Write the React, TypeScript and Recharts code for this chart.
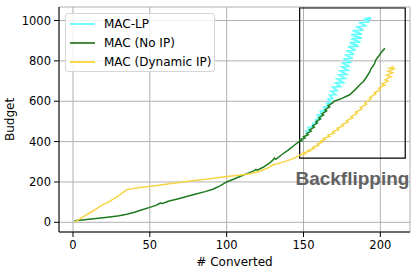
import React from "react";
import {
  LineChart,
  Line,
  XAxis,
  YAxis,
  CartesianGrid,
  Legend,
  ReferenceArea,
  Label,
} from "recharts";

// [# converted, budget]
const lpPts: [number, number][] = [
  [151, 450], [154, 453], [153, 470], [156, 473], [156, 490], [159, 493],
  [158, 510], [161, 513], [159, 530], [162, 533], [161, 550], [164, 553],
  [163, 570], [166, 573], [165, 590], [168, 593], [166, 610], [169, 613],
  [167, 630], [171, 633], [168, 650], [172, 653], [169, 670], [174, 673],
  [171, 690], [176, 693], [172, 710], [177, 713], [173, 730], [178, 733],
  [174, 750], [179, 753], [175, 770], [180, 773], [175, 790], [181, 793],
  [176, 810], [182, 813], [177, 830], [183, 833], [178, 850], [184, 853],
  [179, 870], [186, 873], [180, 890], [187, 893], [181, 910], [188, 913],
  [181, 930], [188, 933], [182, 950], [189, 953], [184, 970], [191, 973],
  [186, 990], [193, 993], [189, 1005], [194, 1008], [190, 1011], [194, 1013],
];

const noIpPts: [number, number][] = [
  [1, 8], [6, 12], [12, 17], [18, 21], [24, 26], [30, 32], [35, 40], [40, 50],
  [45, 62], [50, 74], [54, 84], [56, 92], [57, 96], [58, 92], [62, 104],
  [68, 116], [74, 128], [80, 140], [86, 152], [91, 164], [96, 182], [100, 200],
  [104, 212], [109, 228], [114, 244], [118, 256], [119, 262], [120, 258],
  [124, 274], [128, 294], [130, 308], [131, 318], [132, 312], [136, 336],
  [140, 358], [144, 382], [147, 400],
  [149, 404], [148, 410], [151, 418], [150, 424], [153, 434], [152, 440],
  [155, 452], [154, 458], [157, 472], [156, 478], [159, 492], [158, 498],
  [161, 512], [160, 518], [163, 532], [162, 538], [165, 552], [164, 558],
  [167, 572], [166, 578], [169, 592], [170, 600],
  [175, 614], [180, 632], [184, 660], [187, 684], [189, 698], [191, 720],
  [193, 744], [194, 762], [196, 782], [197, 804], [199, 824], [201, 846],
  [203, 862],
];

const dynIpPts: [number, number][] = [
  [1, 0], [5, 20], [9, 38], [13, 56], [17, 76], [20, 90], [22, 96], [26, 114],
  [30, 134], [35, 162], [45, 174], [55, 183], [65, 193], [75, 203], [85, 212],
  [95, 222], [105, 231], [112, 237], [117, 243], [122, 254], [127, 270],
  [130, 284], [134, 292], [138, 302], [142, 312], [145, 322], [148, 334],
  [151, 340], [150, 344], [154, 352], [153, 356], [157, 366], [156, 372],
  [160, 382], [159, 388], [162, 396], [161, 402], [164, 410], [163, 416],
  [167, 426], [166, 432], [170, 442], [169, 448], [173, 460], [172, 466],
  [176, 478], [175, 484], [179, 498], [178, 504], [182, 518], [181, 524],
  [185, 540], [184, 546], [188, 562], [187, 568], [191, 586], [190, 592],
  [194, 612], [193, 618], [197, 636], [196, 642], [200, 656], [199, 664],
  [203, 680], [201, 686], [205, 700], [203, 706], [207, 722], [204, 728],
  [208, 742], [205, 748], [209, 760], [206, 764], [209, 772],
];

const xTicks = [0, 50, 100, 150, 200];
const yTicks = [0, 200, 400, 600, 800, 1000];
const xDomain: [number, number] = [-9.1, 219.3];
const yDomain: [number, number] = [-48, 1067];

// zoomed-in region
const boxX: [number, number] = [147.5, 216.2];
const boxY: [number, number] = [318, 1062];

const series = [
  { name: "MAC-LP", pts: lpPts, color: "#66ffff", swatch: "#70ffff", width: 1.8 },
  { name: "MAC (No IP)", pts: noIpPts, color: "#1e7a1e", swatch: "#4a8c3e", width: 1.5 },
  { name: "MAC (Dynamic IP)", pts: dynIpPts, color: "#f6d442", swatch: "#f8d84c", width: 1.5 },
];

const FONT = "DejaVu Sans";
const tickStyle = { fontSize: 11.5, fill: "#000", fontFamily: FONT };

const LegendBox = () => (
  <div
    style={{
      width: 150,
      boxSizing: "border-box",
      border: "1px solid #d6d6d6",
      borderRadius: 3,
      background: "rgba(255,255,255,0.8)",
      paddingLeft: 4,
      fontFamily: FONT,
      fontSize: 12,
      color: "#000",
    }}
  >
    {series.map((s) => (
      <div key={s.name} style={{ display: "flex", alignItems: "center", height: 19 }}>
        <div style={{ width: 25, height: 2, background: s.swatch, marginRight: 9 }} />
        <span style={{ whiteSpace: "nowrap" }}>{s.name}</span>
      </div>
    ))}
  </div>
);

export default function App() {
  return (
    <div style={{ width: 415, height: 270, background: "#fff" }}>
      <style>{"body{margin:0}"}</style>
      <LineChart
        width={415}
        height={270}
        margin={{ top: 7, right: 5, left: 0, bottom: 0 }}
      >
        <CartesianGrid stroke="#b0b0b0" strokeWidth={1} />
        <XAxis
          dataKey="x"
          type="number"
          domain={xDomain}
          ticks={xTicks}
          allowDataOverflow
          height={38}
          tick={tickStyle}
          tickSize={5}
          tickMargin={4}
          stroke="#000"
        >
          <Label
            value="# Converted"
            position="insideBottom"
            offset={4}
            style={{ fontSize: 12, fill: "#000", fontFamily: FONT }}
          />
        </XAxis>
        <YAxis
          type="number"
          domain={yDomain}
          ticks={yTicks}
          allowDataOverflow
          width={59}
          tick={tickStyle}
          tickSize={5}
          tickMargin={3}
          stroke="#000"
          label={{
            content: (p: any) => {
              const vb = p.viewBox || { x: 0, y: 7, height: 225 };
              const cx = vb.x + 10;
              const cy = vb.y + vb.height / 2;
              return (
                <text
                  x={cx}
                  y={cy}
                  transform={`rotate(-90 ${cx} ${cy})`}
                  textAnchor="middle"
                  dominantBaseline="central"
                  style={{ fontSize: 12, fill: "#000", fontFamily: FONT }}
                >
                  Budget
                </text>
              );
            },
          }}
        />
        <XAxis
          xAxisId="top"
          orientation="top"
          type="number"
          domain={xDomain}
          allowDataOverflow
          height={0}
          tick={false}
          tickLine={false}
          stroke="#000"
        />
        <YAxis
          yAxisId="right"
          orientation="right"
          type="number"
          domain={yDomain}
          allowDataOverflow
          width={0}
          tick={false}
          tickLine={false}
          stroke="#000"
        />
        <Legend
          layout="vertical"
          align="center"
          verticalAlign="middle"
          wrapperStyle={{ left: 65, top: 13, width: "auto", height: "auto" }}
          content={() => <LegendBox />}
        />
        {series.map((s) => (
          <Line
            key={s.name}
            name={s.name}
            data={s.pts.map(([x, y]) => ({ x, y }))}
            dataKey="y"
            type="linear"
            stroke={s.color}
            strokeWidth={s.width}
            dot={false}
            activeDot={false}
            isAnimationActive={false}
          />
        ))}
        <ReferenceArea
          x1={boxX[0]}
          x2={boxX[1]}
          y1={boxY[0]}
          y2={boxY[1]}
          fill="none"
          stroke="#000"
          strokeWidth={1.2}
          ifOverflow="visible"
        >
          <Label
            value="Backflipping"
            position="bottom"
            offset={13}
            style={{
              fontSize: 19,
              fontWeight: "bold",
              fill: "#626262",
              fontFamily: "Liberation Sans",
            }}
          />
        </ReferenceArea>
      </LineChart>
    </div>
  );
}
